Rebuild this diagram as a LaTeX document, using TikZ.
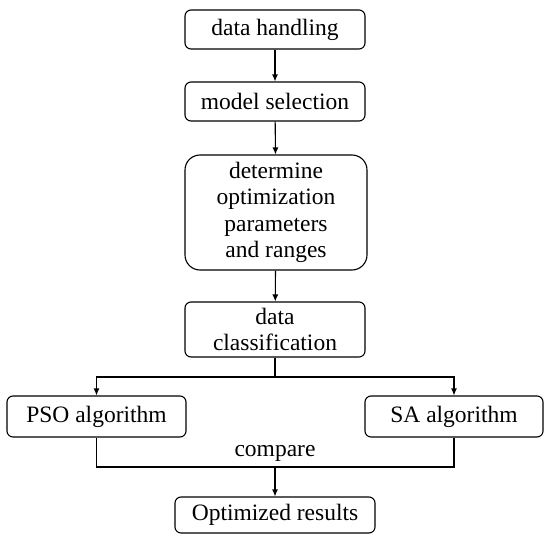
\documentclass[tikz,border=0pt]{standalone}
\usepackage{fontspec}
\setmainfont{Liberation Serif}
\usetikzlibrary{arrows.meta}
\begin{document}
\begin{tikzpicture}[x=1pt,y=-1pt,
  txt/.style={font=\fontsize{23.5}{26.5}\selectfont},
  box/.style={draw, line width=1.1pt, rounded corners=6pt, align=center, inner sep=0pt, txt},
  conn/.style={line width=1.1pt},
  arr/.style={conn, -{Latex[length=7pt,width=6pt]}}]
\useasboundingbox (0,0) rectangle (550,541);
\node[box, minimum width=180pt, minimum height=39pt] (dh) at (275,29.5) {data handling};
\node[box, minimum width=180pt, minimum height=39pt] (ms) at (275,101.5) {model selection};
\node[box, minimum width=182pt, minimum height=115pt, rounded corners=15pt] (dp) at (276,212.5) {determine\\optimization\\parameters\\and ranges};
\node[box, minimum width=180pt, minimum height=55pt] (dc) at (275,329.5) {data\\classification};
\node[box, minimum width=179pt, minimum height=41pt] (pso) at (96.5,416.5) {PSO algorithm};
\node[box, minimum width=178pt, minimum height=41pt] (sa) at (454,416.5) {SA algorithm};
\node[box, minimum width=200pt, minimum height=36pt] (or) at (275,515) {Optimized results};
\coordinate (split) at (275,377);
\coordinate (join) at (275,467);
\node[txt, anchor=base] (cmp) at (275,456) {compare};
\draw[arr] (dh) -- (ms);
\draw[arr] (ms) -- (dp);
\draw[arr] (dp) -- (dc);
\draw[conn] (dc.south) -- (split);
\draw[arr] (split) -| (pso.north);
\draw[arr] (split) -| (sa.north);
\draw[conn] (pso.south) |- (join);
\draw[conn] (sa.south) |- (join);
\draw[arr] (join) -- (or.north);
\end{tikzpicture}
\end{document}
